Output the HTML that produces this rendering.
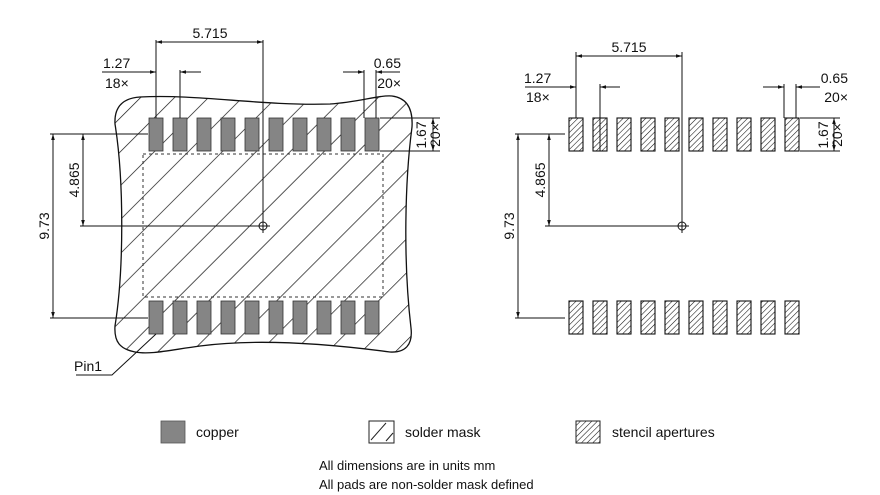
<!DOCTYPE html>
<html><head><style>
html,body{margin:0;padding:0;background:#fff;width:880px;height:495px;overflow:hidden}
text{font-family:"Liberation Sans",sans-serif;fill:#111}
</style></head><body>
<svg width="880" height="495" viewBox="0 0 880 495" xmlns="http://www.w3.org/2000/svg">
<defs>
<pattern id="mh" patternUnits="userSpaceOnUse" width="24" height="24" patternTransform="rotate(45)">
<line x1="0" y1="0" x2="0" y2="24" stroke="#111" stroke-width="1.4"/>
</pattern>
<pattern id="sh" patternUnits="userSpaceOnUse" width="4" height="4" patternTransform="rotate(45)">
<line x1="0" y1="0" x2="0" y2="4" stroke="#111" stroke-width="1.1"/>
</pattern>
<marker id="a" viewBox="0 0 10 10" refX="10" refY="5" markerWidth="9" markerHeight="6" orient="auto-start-reverse"><path d="M0,2 L10,5 L0,8 z" fill="#111"/></marker>
</defs>

<path d="M140,97 C200,94 260,106 330,104 C360,102 378,95 392,96 C408,98 413,110 412,127 C405,180 403,260 411,328 C413,345 405,353 390,352 C330,344 260,338 200,346 C170,350 150,355 135,352 C120,349 114,342 115,326 C124,270 124,180 115,124 C114,106 124,98 140,97 Z" fill="url(#mh)" stroke="#111" stroke-width="1.3"/>
<rect x="143" y="154" width="240" height="143" fill="none" stroke="#333" stroke-width="1" stroke-dasharray="3,3"/>

<g fill="#858585" stroke="#333" stroke-width="0.8">
<rect x="149" y="118" width="14" height="33"/><rect x="173" y="118" width="14" height="33"/><rect x="197" y="118" width="14" height="33"/><rect x="221" y="118" width="14" height="33"/><rect x="245" y="118" width="14" height="33"/><rect x="269" y="118" width="14" height="33"/><rect x="293" y="118" width="14" height="33"/><rect x="317" y="118" width="14" height="33"/><rect x="341" y="118" width="14" height="33"/><rect x="365" y="118" width="14" height="33"/>
<rect x="149" y="301" width="14" height="33"/><rect x="173" y="301" width="14" height="33"/><rect x="197" y="301" width="14" height="33"/><rect x="221" y="301" width="14" height="33"/><rect x="245" y="301" width="14" height="33"/><rect x="269" y="301" width="14" height="33"/><rect x="293" y="301" width="14" height="33"/><rect x="317" y="301" width="14" height="33"/><rect x="341" y="301" width="14" height="33"/><rect x="365" y="301" width="14" height="33"/>
</g>

<g fill="url(#sh)" stroke="#111" stroke-width="1.1">
<rect x="569" y="118" width="14" height="33"/><rect x="593" y="118" width="14" height="33"/><rect x="617" y="118" width="14" height="33"/><rect x="641" y="118" width="14" height="33"/><rect x="665" y="118" width="14" height="33"/><rect x="689" y="118" width="14" height="33"/><rect x="713" y="118" width="14" height="33"/><rect x="737" y="118" width="14" height="33"/><rect x="761" y="118" width="14" height="33"/><rect x="785" y="118" width="14" height="33"/>
<rect x="569" y="301" width="14" height="33"/><rect x="593" y="301" width="14" height="33"/><rect x="617" y="301" width="14" height="33"/><rect x="641" y="301" width="14" height="33"/><rect x="665" y="301" width="14" height="33"/><rect x="689" y="301" width="14" height="33"/><rect x="713" y="301" width="14" height="33"/><rect x="737" y="301" width="14" height="33"/><rect x="761" y="301" width="14" height="33"/><rect x="785" y="301" width="14" height="33"/>
</g>

<g stroke="#111" stroke-width="1" fill="none">
<line x1="156" y1="40" x2="156" y2="118"/><line x1="263" y1="40" x2="263" y2="222"/>
<line x1="156" y1="42" x2="263" y2="42" marker-start="url(#a)" marker-end="url(#a)"/>
<line x1="180" y1="70" x2="180" y2="118"/>
<line x1="102" y1="72" x2="156" y2="72" marker-end="url(#a)"/><line x1="201" y1="72" x2="180" y2="72" marker-end="url(#a)"/>
<line x1="364" y1="70" x2="364" y2="118"/><line x1="376" y1="70" x2="376" y2="118"/>
<line x1="343" y1="72" x2="364" y2="72" marker-end="url(#a)"/><line x1="400" y1="72" x2="376" y2="72" marker-end="url(#a)"/>
<line x1="380" y1="118" x2="440" y2="118"/><line x1="380" y1="151" x2="440" y2="151"/>
<line x1="433" y1="118" x2="433" y2="151" marker-start="url(#a)" marker-end="url(#a)"/>
<line x1="50" y1="134" x2="148" y2="134"/><line x1="80" y1="226" x2="258" y2="226"/><line x1="50" y1="318" x2="148" y2="318"/>
<line x1="83" y1="134" x2="83" y2="226" marker-start="url(#a)" marker-end="url(#a)"/>
<line x1="53" y1="134" x2="53" y2="318" marker-start="url(#a)" marker-end="url(#a)"/>
<circle cx="263" cy="226" r="4"/><line x1="256" y1="226" x2="270" y2="226"/><line x1="263" y1="219" x2="263" y2="233"/>
<polyline points="156,334 112,375 76,375"/>
</g>
<g font-size="14">
<text x="210" y="38" text-anchor="middle">5.715</text>
<text x="103" y="68">1.27</text><text x="105" y="88">18×</text>
<text x="401" y="68" text-anchor="end">0.65</text><text x="401" y="88" text-anchor="end">20×</text>
<text transform="translate(426,135) rotate(-90)" text-anchor="middle">1.67</text>
<text transform="translate(440,135) rotate(-90)" text-anchor="middle">20×</text>
<text transform="translate(79,180) rotate(-90)" text-anchor="middle">4.865</text>
<text transform="translate(49,226) rotate(-90)" text-anchor="middle">9.73</text>
<text x="74" y="371">Pin1</text>
</g>

<g stroke="#111" stroke-width="1" fill="none">
<line x1="576" y1="52" x2="576" y2="118"/><line x1="682" y1="52" x2="682" y2="222"/>
<line x1="576" y1="56" x2="682" y2="56" marker-start="url(#a)" marker-end="url(#a)"/>
<line x1="600" y1="84" x2="600" y2="151"/>
<line x1="525" y1="87" x2="576" y2="87" marker-end="url(#a)"/><line x1="620" y1="87" x2="600" y2="87" marker-end="url(#a)"/>
<line x1="784" y1="84" x2="784" y2="118"/><line x1="796" y1="84" x2="796" y2="118"/>
<line x1="763" y1="87" x2="784" y2="87" marker-end="url(#a)"/><line x1="820" y1="87" x2="796" y2="87" marker-end="url(#a)"/>
<line x1="800" y1="118" x2="840" y2="118"/><line x1="800" y1="151" x2="840" y2="151"/>
<line x1="834" y1="118" x2="834" y2="151" marker-start="url(#a)" marker-end="url(#a)"/>
<line x1="515" y1="134" x2="565" y2="134"/><line x1="545" y1="226" x2="678" y2="226"/><line x1="515" y1="318" x2="565" y2="318"/>
<line x1="549" y1="134" x2="549" y2="226" marker-start="url(#a)" marker-end="url(#a)"/>
<line x1="518" y1="134" x2="518" y2="318" marker-start="url(#a)" marker-end="url(#a)"/>
<circle cx="682" cy="226" r="4"/><line x1="675" y1="226" x2="689" y2="226"/><line x1="682" y1="219" x2="682" y2="233"/>
</g>
<g font-size="14">
<text x="629" y="52" text-anchor="middle">5.715</text>
<text x="524" y="83">1.27</text><text x="526" y="102">18×</text>
<text x="848" y="83" text-anchor="end">0.65</text><text x="848" y="102" text-anchor="end">20×</text>
<text transform="translate(828,135) rotate(-90)" text-anchor="middle">1.67</text>
<text transform="translate(842,135) rotate(-90)" text-anchor="middle">20×</text>
<text transform="translate(545,180) rotate(-90)" text-anchor="middle">4.865</text>
<text transform="translate(514,226) rotate(-90)" text-anchor="middle">9.73</text>
</g>

<rect x="161" y="421" width="24" height="22" fill="#858585" stroke="#555" stroke-width="0.8"/>
<text x="196" y="437" font-size="14">copper</text>
<rect x="369" y="421" width="25" height="22" fill="none" stroke="#222" stroke-width="1"/>
<line x1="371" y1="440" x2="386" y2="423" stroke="#222"/><line x1="386" y1="441" x2="393" y2="433" stroke="#222"/>
<text x="405" y="437" font-size="14">solder mask</text>
<rect x="576" y="421" width="24" height="22" fill="url(#sh)" stroke="#222" stroke-width="1"/>
<text x="612" y="437" font-size="14">stencil apertures</text>
<text x="319" y="470" font-size="13">All dimensions are in units mm</text>
<text x="319" y="489" font-size="13">All pads are non-solder mask defined</text>
</svg>
</body></html>
